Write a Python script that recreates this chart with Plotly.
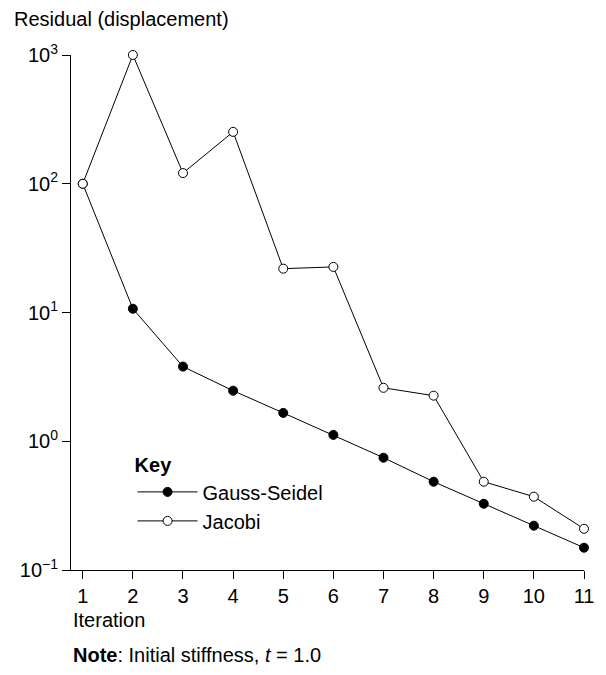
import plotly.graph_objects as go

iterations = [1, 2, 3, 4, 5, 6, 7, 8, 9, 10, 11]
gauss_seidel = [100, 10.7, 3.8, 2.47, 1.66, 1.12, 0.745, 0.485, 0.327, 0.221, 0.149]
jacobi = [100, 1000, 121, 253, 21.9, 22.6, 2.6, 2.26, 0.485, 0.371, 0.209]
ytick_vals = [0.1, 1, 10, 100, 1000]
ytick_text = ["10<sup>−1</sup>", "10<sup>0</sup>", "10<sup>1</sup>", "10<sup>2</sup>", "10<sup>3</sup>"]

font = "Liberation Sans, Arial, sans-serif"

fig = go.Figure()
fig.add_trace(go.Scatter(
    x=iterations, y=gauss_seidel, name="Gauss-Seidel", mode="lines+markers",
    line=dict(color="black", width=1),
    marker=dict(symbol="circle", size=9, color="black", line=dict(color="black", width=1)),
    cliponaxis=False))
fig.add_trace(go.Scatter(
    x=iterations, y=jacobi, name="Jacobi", mode="lines+markers",
    line=dict(color="black", width=1),
    marker=dict(symbol="circle", size=9, color="white", line=dict(color="black", width=1)),
    cliponaxis=False))

# the page body adds an 8px margin, so the figure is 8px smaller and shifted
fig.update_layout(
    width=598, height=667,
    margin=dict(l=54, r=15, t=47, b=105),
    paper_bgcolor="white", plot_bgcolor="white",
    font=dict(family=font, size=20, color="black"),
    showlegend=True,
    legend=dict(
        x=0.12, y=0.24, xanchor="left", yanchor="top",
        title=dict(text="<b>Key</b>", font=dict(size=20)),
        bgcolor="rgba(0,0,0,0)", font=dict(size=20),
        tracegroupgap=0, itemwidth=60),
    xaxis=dict(
        range=[0.766, 11], tickvals=iterations, showgrid=False, zeroline=False,
        showline=True, linecolor="black", linewidth=1,
        ticks="outside", ticklen=8, tickcolor="black", tickfont=dict(size=20)),
    yaxis=dict(
        type="log", range=[-1, 3], tickvals=ytick_vals, ticktext=ytick_text,
        showgrid=False, zeroline=False, showline=True, linecolor="black", linewidth=1,
        ticks="outside", ticklen=8, tickcolor="black", tickfont=dict(size=20)),
    annotations=[
        dict(text="Residual (displacement)", xref="paper", yref="paper",
             x=-0.115, y=1.045, xanchor="left", yanchor="bottom", showarrow=False,
             font=dict(size=20)),
        dict(text="Iteration", xref="paper", yref="paper",
             x=0.0, y=-0.072, xanchor="left", yanchor="top", showarrow=False,
             font=dict(size=20)),
        dict(text="<b>Note</b>: Initial stiffness, <i>t</i> = 1.0", xref="paper", yref="paper",
             x=0.0, y=-0.14, xanchor="left", yanchor="top", showarrow=False,
             font=dict(size=20)),
    ],
)

fig.write_html("out.html")
